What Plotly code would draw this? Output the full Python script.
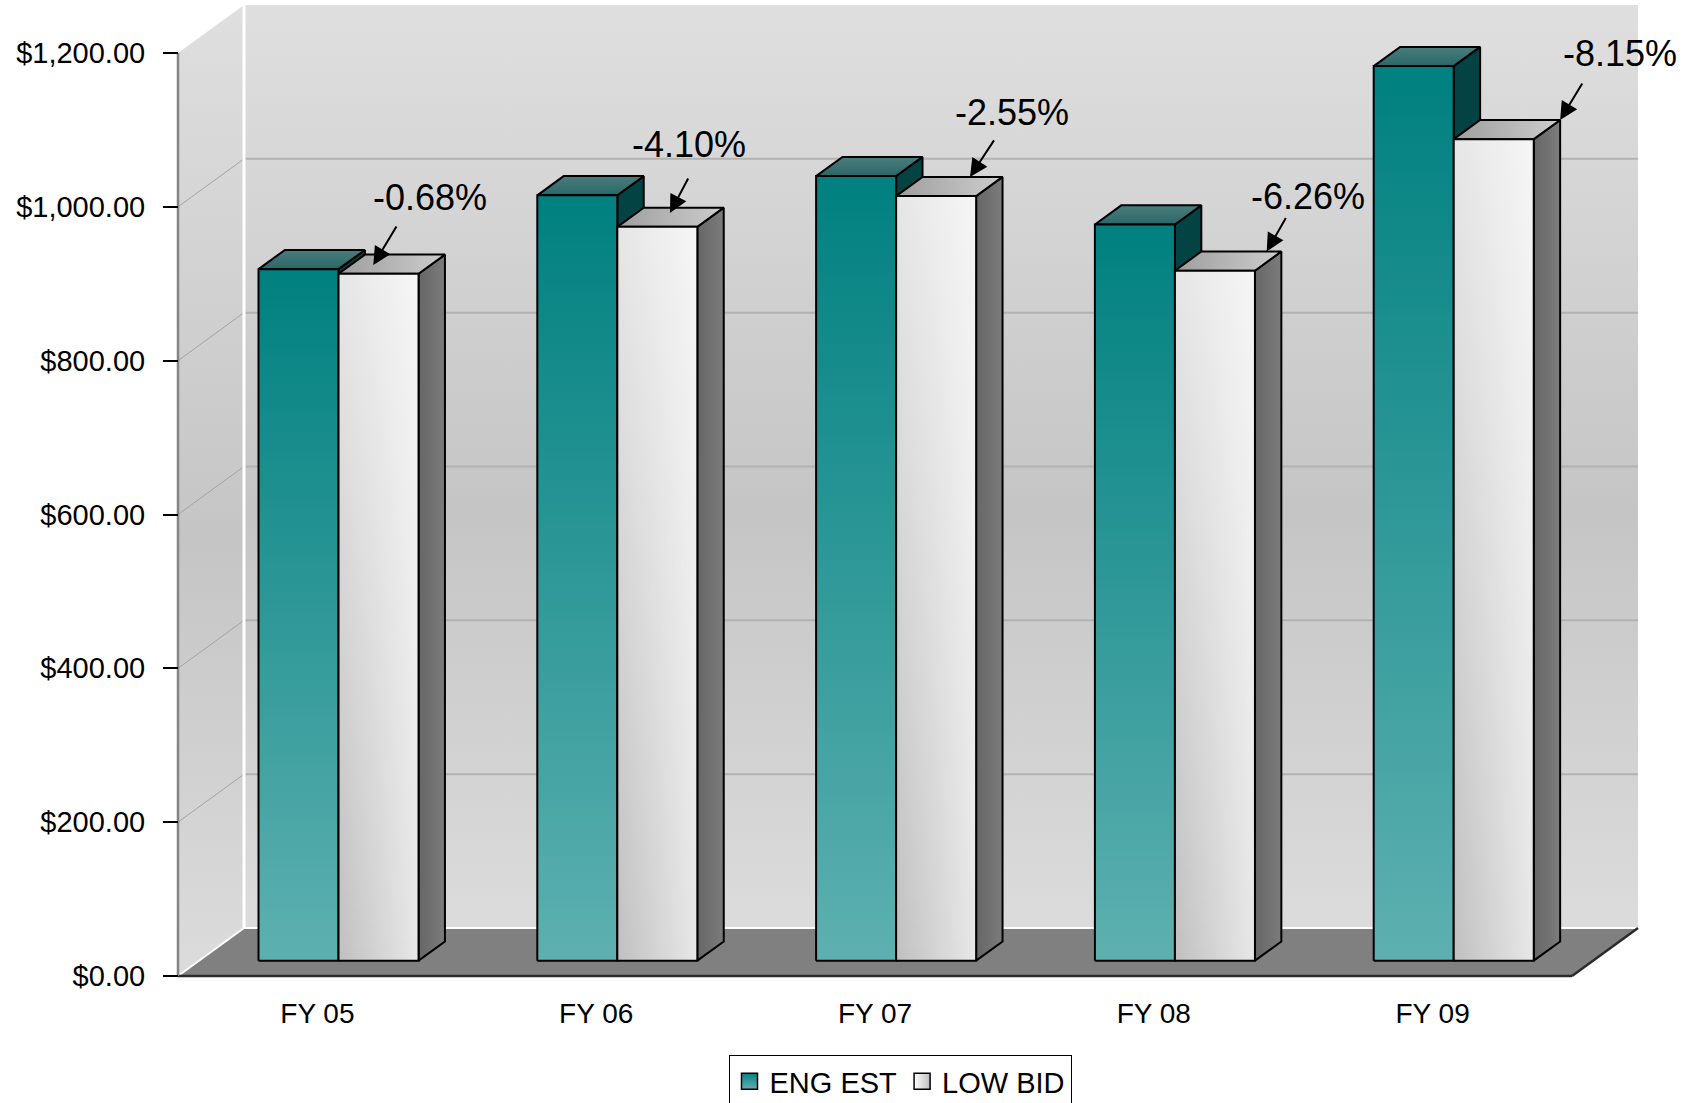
import plotly.graph_objects as go

# ---------------- data ----------------
categories = ["FY 05", "FY 06", "FY 07", "FY 08", "FY 09"]
eng_est = [899, 995, 1020, 957, 1163]
low_bid = [893, 954, 994, 897, 1068]
pct_labels = ["-0.68%", "-4.10%", "-2.55%", "-6.26%", "-8.15%"]
ytick_vals = [0, 200, 400, 600, 800, 1000, 1200]
ytick_text = ["$0.00", "$200.00", "$400.00", "$600.00", "$800.00", "$1,000.00", "$1,200.00"]
series_names = ["ENG EST", "LOW BID"]

# ---------------- layout geometry (styling) ----------------
W, H = 1694, 1103
X0_PX = 178.0            # front-left corner of floor
CAT_PX = 278.8           # pixel width of one category
Y0_PX = 976.0            # front floor line
PX_PER_UNIT = (976.0 - 53.0) / 1200.0
DEPTH_PX = (66.0, 48.0)  # oblique depth of the 3-D box
DX = DEPTH_PX[0] / CAT_PX
DY = DEPTH_PX[1] / PX_PER_UNIT
YMAX = ytick_vals[-1]
NCAT = len(categories)

xr = [-X0_PX / CAT_PX, (W - X0_PX) / CAT_PX]
yr = [-(H - Y0_PX) / PX_PER_UNIT, Y0_PX / PX_PER_UNIT]

BAR_W = 0.287   # bar width in category units
F0 = 0.32       # depth fraction of bar front plane
FD = 0.40       # depth fraction of bar thickness

# annotation arrow placement (fraction along bar width / depth, pixel offsets)
tip_u = [0.284, 0.42, 0.593, 0.817, 1.0]
tip_w = [0.183, 0.288, 0.40, 0.40, 0.40]
text_off = [(57, -67), (19, -69), (42, -64), (41, -55), (60, -66)]
tail_off = [(24, -40), (19, -36), (25, -38), (20, -35), (23, -38)]

FONT = "Liberation Sans, Arial, sans-serif"

fig = go.Figure()


def poly(pts):
    xs = [p[0] for p in pts] + [pts[0][0]]
    ys = [p[1] for p in pts] + [pts[0][1]]
    return xs, ys


def add_poly(pts, fillcolor=None, gradient=None, line_color=None, line_width=0):
    xs, ys = poly(pts)
    kw = dict(x=xs, y=ys, mode="lines", fill="toself", hoverinfo="skip",
              showlegend=False,
              line=dict(color=line_color or "rgba(0,0,0,0)", width=line_width))
    if gradient is not None:
        kw["fillgradient"] = gradient
        kw["fillcolor"] = fillcolor or "rgba(0,0,0,0)"
    else:
        kw["fillcolor"] = fillcolor
    fig.add_trace(go.Scatter(**kw))


def add_lines(segs, color, width):
    xs, ys = [], []
    for (a, b) in segs:
        xs += [a[0], b[0], None]
        ys += [a[1], b[1], None]
    fig.add_trace(go.Scatter(x=xs, y=ys, mode="lines", hoverinfo="skip",
                             showlegend=False, line=dict(color=color, width=width)))


wall_grad = dict(type="vertical",
                 colorscale=[[0, "#DCDCDC"], [0.45, "#C5C5C5"], [1, "#DFDFDF"]])

# back wall
add_poly([(DX, DY), (NCAT + DX, DY), (NCAT + DX, YMAX + DY), (DX, YMAX + DY)],
         gradient=dict(wall_grad, start=DY, stop=YMAX + DY))
# side wall
add_poly([(0, 0), (DX, DY), (DX, YMAX + DY), (0, YMAX)],
         gradient=dict(wall_grad, start=0, stop=YMAX + DY))

# gridlines on back and side walls
grid_vals = [v for v in ytick_vals if 0 < v < YMAX]
add_lines([((DX, v + DY), (NCAT + DX, v + DY)) for v in grid_vals], "#B2B2B2", 2)
add_lines([((0, v), (DX, v + DY)) for v in grid_vals], "#A4A4A4", 1)

# white wall edges
add_lines([((DX, DY), (DX, YMAX + DY))], "white", 3)

# floor
add_poly([(0, 0), (NCAT, 0), (NCAT + DX, DY), (DX, DY)], fillcolor="#808080")
add_lines([((DX, DY), (NCAT + DX, DY)), ((0, 0), (DX, DY))], "white", 2)
add_lines([((0, 0), (NCAT, 0)), ((NCAT, 0), (NCAT + DX, DY))], "#2B2B2B", 2.5)

# front y-axis line
add_lines([((0, 0), (0, YMAX))], "#858585", 2.5)

# bars
ox, oy = F0 * DX, F0 * DY
ddx, ddy = FD * DX, FD * DY
for i in range(NCAT):
    c = i + 0.5 + ox
    for s, vals in enumerate([eng_est, low_bid]):
        v = vals[i]
        L = c - BAR_W if s == 0 else c
        R = L + BAR_W
        b, t = oy, v + oy
        front = [(L, b), (R, b), (R, t), (L, t)]
        top = [(L, t), (R, t), (R + ddx, t + ddy), (L + ddx, t + ddy)]
        side = [(R, b), (R + ddx, b + ddy), (R + ddx, t + ddy), (R, t)]
        if s == 0:
            add_poly(side, fillcolor="#044343", line_color="black", line_width=2)
            add_poly(top, gradient=dict(type="vertical",
                                        colorscale=[[0, "#2A6767"], [1, "#4B7C7C"]]),
                     line_color="black", line_width=2)
            add_poly(front, gradient=dict(type="vertical",
                                          colorscale=[[0, "#5EB0B0"], [1, "#008080"]]),
                     line_color="black", line_width=2)
        else:
            add_poly(side, gradient=dict(type="horizontal",
                                         colorscale=[[0, "#666666"], [1, "#7C7C7C"]]),
                     line_color="black", line_width=2)
            add_poly(top, gradient=dict(type="horizontal",
                                        colorscale=[[0, "#9E9E9E"], [1, "#CDCDCD"]]),
                     line_color="black", line_width=2)
            add_poly(front, gradient=dict(type="horizontal",
                                          colorscale=[[0, "#C0C0C0"], [1, "#E8E8E8"]]))
            add_poly(front, gradient=dict(type="vertical",
                                          colorscale=[[0, "rgba(255,255,255,0)"],
                                                      [1, "rgba(255,255,255,0.6)"]]),
                     line_color="black", line_width=2)

# legend entries
fig.add_trace(go.Scatter(x=[None], y=[None], mode="markers", name=series_names[0],
                         marker=dict(symbol="square", size=16, color="#0A8080",
                                     gradient=dict(type="vertical", color="#62B2B2"),
                                     line=dict(color="black", width=1.5))))
fig.add_trace(go.Scatter(x=[None], y=[None], mode="markers", name=series_names[1],
                         marker=dict(symbol="square", size=16, color="#FFFFFF",
                                     gradient=dict(type="horizontal", color="#BDBDBD"),
                                     line=dict(color="black", width=1.5))))

# percentage annotations with arrows
annotations = []
for i in range(NCAT):
    Llow = i + 0.5 + ox
    tx = Llow + tip_u[i] * BAR_W + tip_w[i] * DX
    ty = low_bid[i] + oy + tip_w[i] * DY
    annotations.append(dict(x=tx, y=ty, xref="x", yref="y", text=pct_labels[i],
                            showarrow=False, xshift=text_off[i][0], yshift=-text_off[i][1],
                            font=dict(family=FONT, size=36, color="black")))
    annotations.append(dict(x=tx, y=ty, xref="x", yref="y", text="",
                            showarrow=True, ax=tail_off[i][0], ay=tail_off[i][1],
                            arrowhead=2, arrowsize=1.8, arrowwidth=2, arrowcolor="black"))

fig.update_layout(
    width=W, height=H,
    margin=dict(l=0, r=0, t=0, b=0, autoexpand=False),
    paper_bgcolor="white", plot_bgcolor="white",
    showlegend=True,
    legend=dict(orientation="h", x=900 / W, xanchor="center",
                y=(H - 1055) / H, yanchor="top",
                bordercolor="black", borderwidth=1, bgcolor="white",
                font=dict(family=FONT, size=29, color="black"),
                itemsizing="trace", traceorder="normal"),
    annotations=annotations,
    xaxis=dict(range=xr, domain=[0, 1], anchor="free", position=(H - Y0_PX) / H,
               tickmode="array", tickvals=[i + 0.5 for i in range(NCAT)],
               ticktext=categories, ticks="outside", ticklen=8,
               tickcolor="rgba(0,0,0,0)", showgrid=False, zeroline=False,
               showline=False, ticklabelstandoff=4,
               tickfont=dict(family=FONT, size=28, color="black")),
    xaxis2=dict(range=xr, domain=[0, 1], anchor="free", position=(H - Y0_PX) / H,
                overlaying="x", side="bottom", tickmode="array",
                tickvals=list(range(NCAT + 1)), ticks="outside", ticklen=14,
                tickwidth=1.5, tickcolor="#555555", showticklabels=False,
                showgrid=False, zeroline=False, showline=False),
    yaxis=dict(range=yr, domain=[0, 1], anchor="free", position=X0_PX / W,
               tickmode="array", tickvals=ytick_vals, ticktext=ytick_text,
               ticks="outside", ticklen=15, tickwidth=1.5, tickcolor="black",
               showgrid=False, zeroline=False, showline=False, ticklabelstandoff=12,
               tickfont=dict(family=FONT, size=29, color="black")),
)

fig.write_html("out.html", config={"displayModeBar": False},
               post_script="document.body.style.margin='0';")
